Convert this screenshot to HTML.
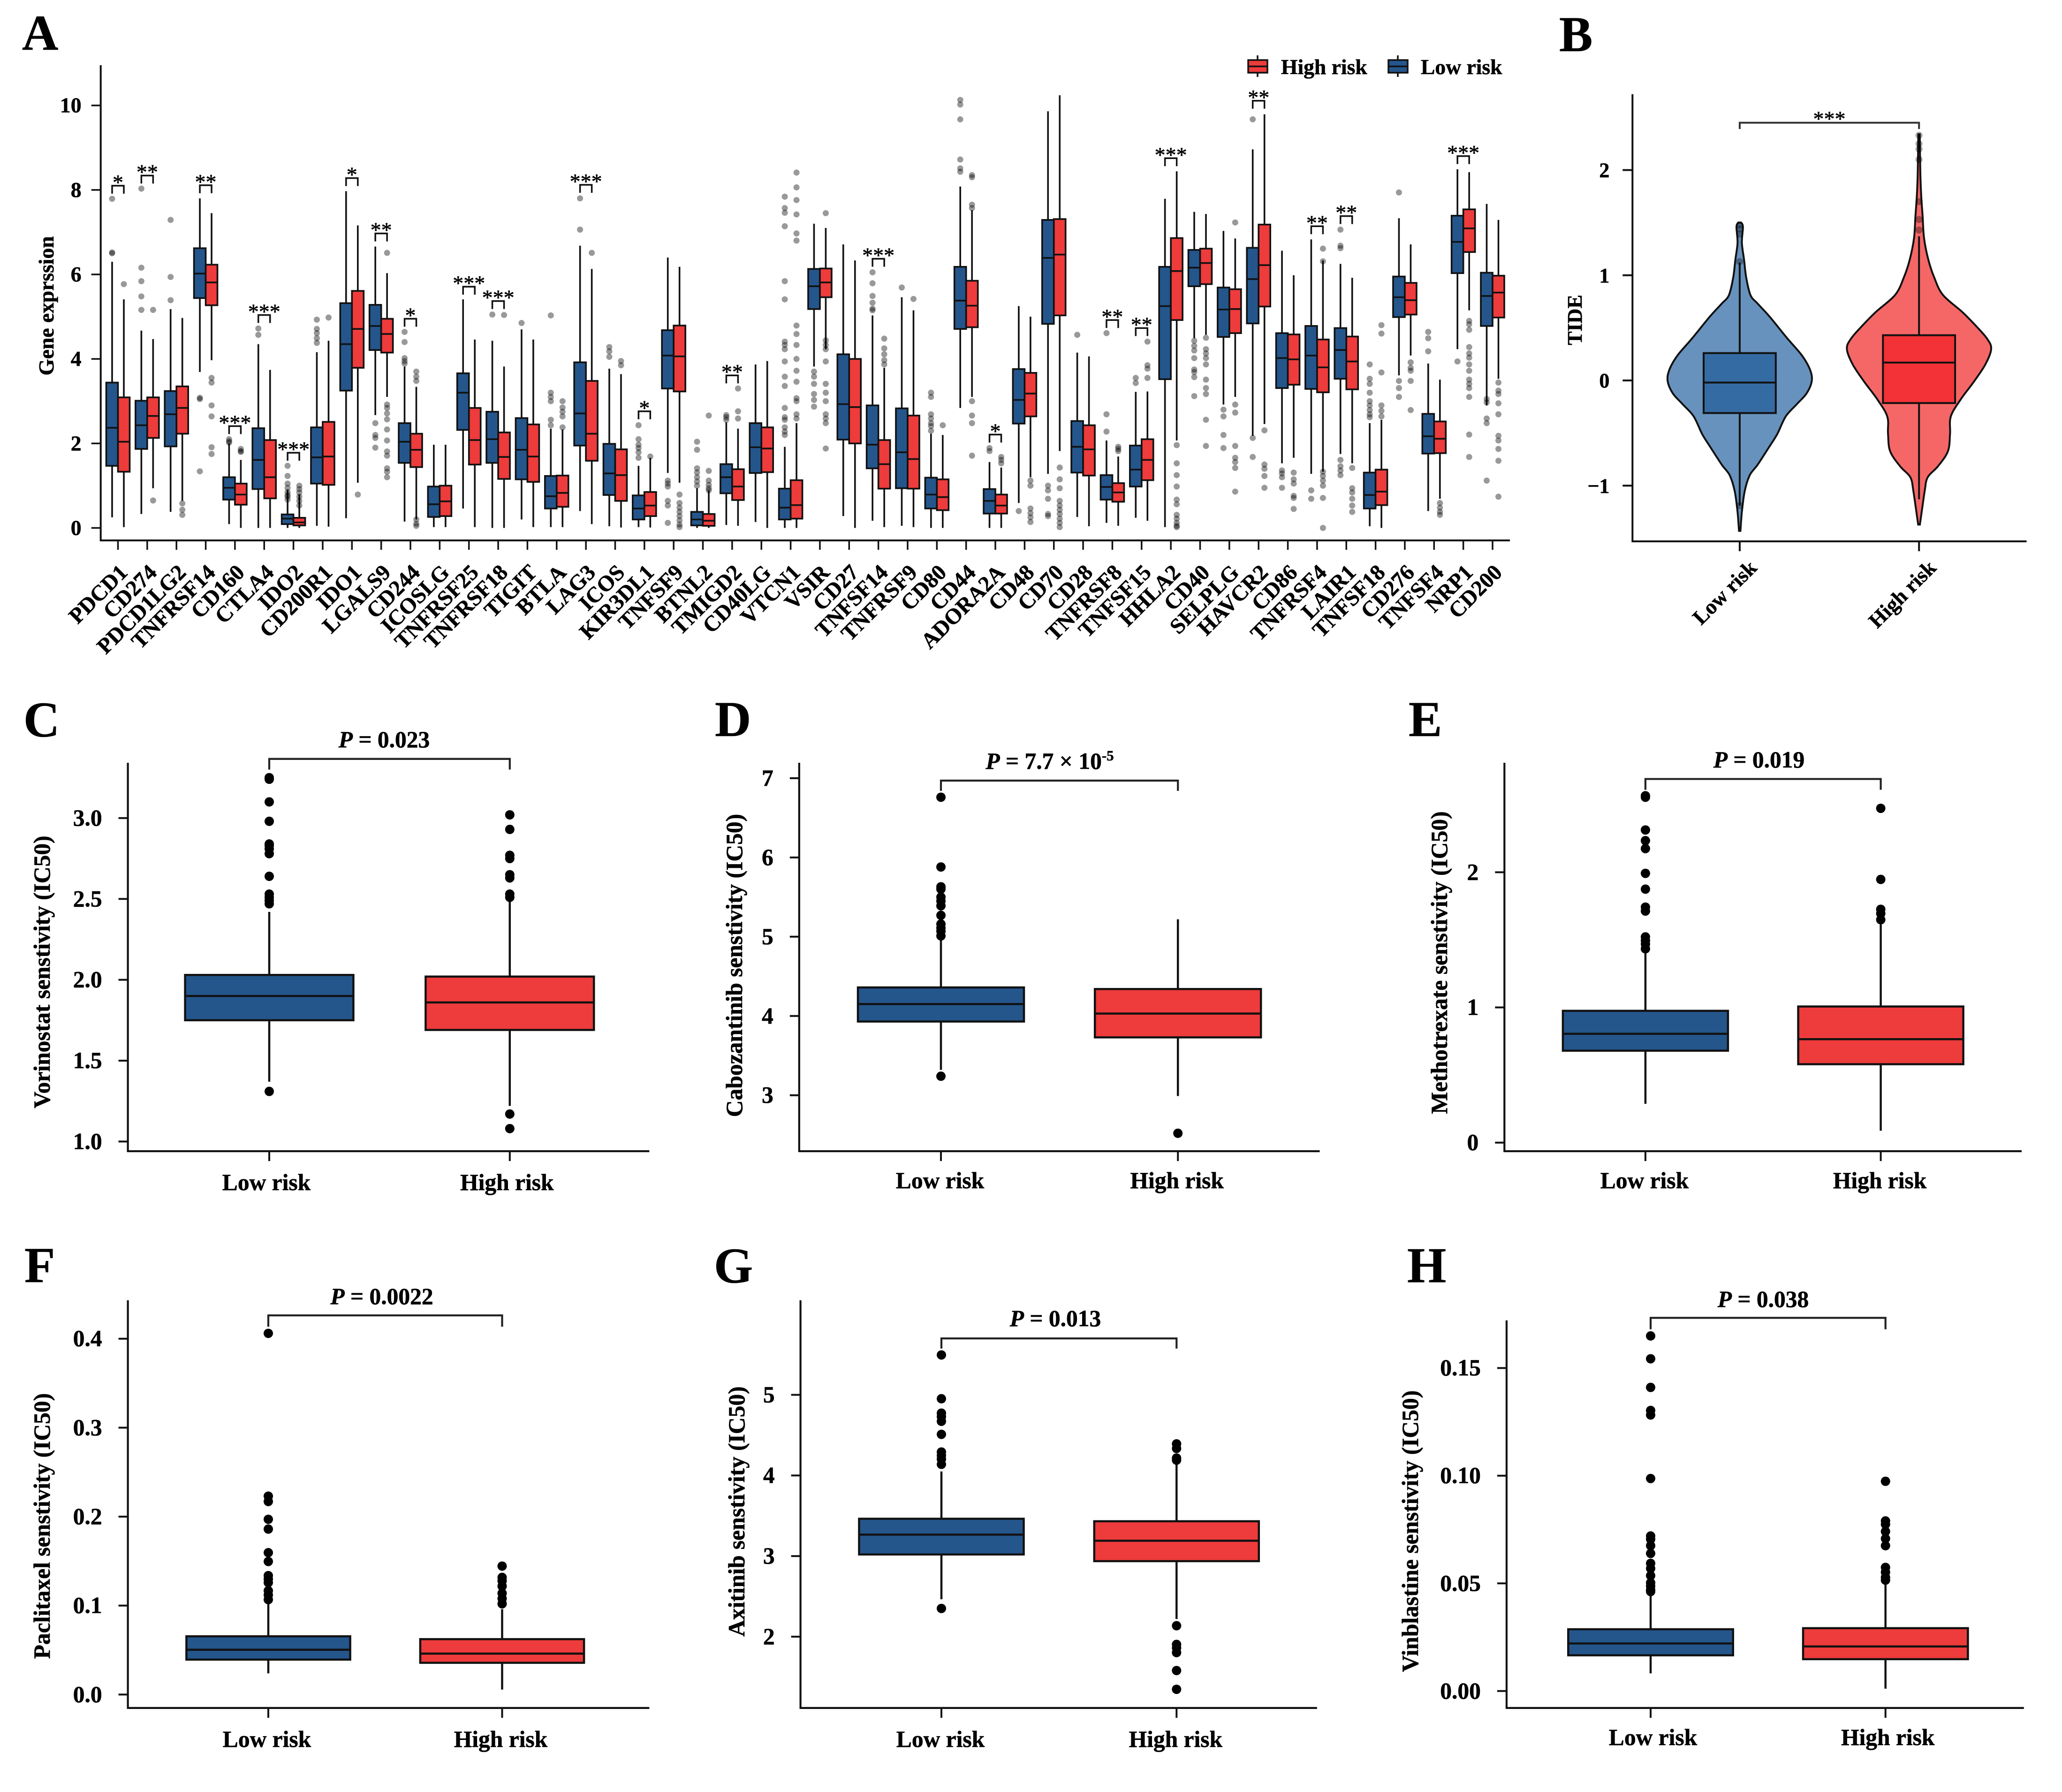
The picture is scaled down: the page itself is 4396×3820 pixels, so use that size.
<!DOCTYPE html>
<html lang="en">
<head>
<meta charset="utf-8">
<title>Immune checkpoint expression, TIDE and drug sensitivity by risk group</title>
<style>
html,body{margin:0;padding:0;background:#fff;}
svg{display:block;}
text{font-family:"Liberation Serif",serif;font-weight:bold;fill:#000;stroke:#000;stroke-width:0.6px;}
.letter{font-size:107px;}
.ytitle{font-size:49.5px;text-anchor:middle;}
.plabel{font-size:49.5px;text-anchor:middle;}
.plabel .p{font-style:italic;}
.legend{font-size:45.6px;}
</style>
</head>
<body>
<svg id="figure" xmlns="http://www.w3.org/2000/svg" width="4396" height="3820" viewBox="0 0 4396 3820">
<rect x="0" y="0" width="4396" height="3820" fill="#fff"/>
<text class="letter" x="47" y="106">A</text>
<text class="letter" x="3324" y="109">B</text>
<text class="letter" x="50" y="1570">C</text>
<text class="letter" x="1524" y="1569">D</text>
<text class="letter" x="3003" y="1569">E</text>
<text class="letter" x="52" y="2733">F</text>
<text class="letter" x="1522" y="2734">G</text>
<text class="letter" x="3000" y="2733">H</text>

<text transform="translate(114,652) rotate(-90)" style="font-size:45.5px;text-anchor:middle">Gene exprssion</text>
<text transform="translate(3372,682) rotate(-90)" style="font-size:44px;text-anchor:middle">TIDE</text>
<text class="ytitle" transform="translate(106,2072) rotate(-90)">Vorinostat senstivity (IC50)</text>
<text class="ytitle" transform="translate(1582,2058) rotate(-90)">Cabozantinib senstivity (IC50)</text>
<text class="ytitle" transform="translate(3085,2052) rotate(-90)">Methotrexate senstivity (IC50)</text>
<text class="ytitle" transform="translate(106,3253) rotate(-90)">Paclitaxel senstivity (IC50)</text>
<text class="ytitle" transform="translate(1587,3222) rotate(-90)">Axitinib senstivity (IC50)</text>
<text class="ytitle" transform="translate(3023,3264) rotate(-90)">Vinblastine senstivity (IC50)</text>

<text class="plabel" x="819" y="1593"><tspan class="p">P</tspan> = 0.023</text>
<text class="plabel" x="2238" y="1639"><tspan class="p">P</tspan> = 7.7 × 10<tspan dy="-18" font-size="31">-5</tspan></text>
<text class="plabel" x="3750" y="1636"><tspan class="p">P</tspan> = 0.019</text>
<text class="plabel" x="814" y="2780"><tspan class="p">P</tspan> = 0.0022</text>
<text class="plabel" x="2250" y="2827"><tspan class="p">P</tspan> = 0.013</text>
<text class="plabel" x="3759" y="2786"><tspan class="p">P</tspan> = 0.038</text>

<g>
  <g>
    <line x1="2681" x2="2681" y1="118" y2="164" stroke="#111" stroke-width="3.5"/>
    <rect x="2661" y="128" width="41" height="27" fill="#ee3b3b" stroke="#111" stroke-width="3.5"/>
    <line x1="2661" x2="2702" y1="141.5" y2="141.5" stroke="#111" stroke-width="3.5"/>
    <text class="legend" x="2731" y="158">High risk</text>
  </g>
  <g>
    <line x1="2980" x2="2980" y1="118" y2="164" stroke="#111" stroke-width="3.5"/>
    <rect x="2960" y="128" width="41" height="27" fill="#24568c" stroke="#111" stroke-width="3.5"/>
    <line x1="2960" x2="3001" y1="141.5" y2="141.5" stroke="#111" stroke-width="3.5"/>
    <text class="legend" x="3029" y="158">Low risk</text>
  </g>
</g>
</svg>

<script>
/* ---------- Panel A data: [lower whisker, Q1, median, Q3, upper whisker] ---------- */
const geneNames = ['PDCD1','CD274','PDCD1LG2','TNFRSF14','CD160','CTLA4','IDO2','CD200R1','IDO1','LGALS9','CD244','ICOSLG','TNFRSF25','TNFRSF18','TIGIT','BTLA','LAG3','ICOS','KIR3DL1','TNFSF9','BTNL2','TMIGD2','CD40LG','VTCN1','VSIR','CD27','TNFSF14','TNFRSF9','CD80','CD44','ADORA2A','CD48','CD70','CD28','TNFRSF8','TNFSF15','HHLA2','CD40','SELPLG','HAVCR2','CD86','TNFRSF4','LAIR1','TNFSF18','CD276','TNFSF4','NRP1','CD200'];
const geneTicks = [0,2,4,6,8,10];
const geneTickLabels = ['0','2','4','6','8','10'];
const geneLowStats = [
[0.25,1.47,2.37,3.44,6.30],[0.33,1.87,2.43,3.01,4.67],[0.38,1.93,2.69,3.24,5.18],[3.69,5.44,6.02,6.62,7.80],
[0.09,0.67,0.95,1.20,2.00],[0,0.92,1.61,2.36,4.35],[0,0.09,0.22,0.32,0.90],[0.05,1.05,1.67,2.38,4.16],
[0.23,3.25,4.35,5.32,7.97],[2.67,4.21,4.78,5.28,6.66],[0.15,1.54,2.04,2.48,3.82],[0.02,0.26,0.56,0.98,1.97],
[0.46,2.32,3.20,3.66,5.41],[0,1.54,2.10,2.75,4.43],[0.20,1.15,1.85,2.60,4.70],[0.02,0.46,0.75,1.23,2.35],
[0.40,1.95,2.71,3.92,6.68],[0.04,0.78,1.29,1.99,3.77],[0.02,0.20,0.46,0.77,1.47],[1.30,3.30,4.08,4.68,6.40],
[0,0.06,0.20,0.38,0.94],[0.07,0.82,1.20,1.51,2.50],[0.14,1.30,1.91,2.48,3.87],[0,0.20,0.48,0.93,1.92],
[3.82,5.18,5.72,6.13,7.20],[0.28,2.09,2.93,4.11,6.71],[0.17,1.41,1.97,2.90,5.03],[0.05,0.94,1.79,2.83,5.46],
[0,0.46,0.79,1.19,2.23],[2.84,4.71,5.38,6.18,8.08],[0,0.34,0.64,0.92,1.56],[0.59,2.47,3.03,3.76,5.25],
[1.28,4.83,6.39,7.29,9.86],[0.26,1.31,1.92,2.53,4.15],[0.12,0.67,0.97,1.25,2.07],[0.24,0.98,1.38,1.95,3.22],
[0.02,3.52,5.25,6.18,7.79],[4.49,5.72,6.16,6.58,7.48],[2.92,4.52,5.17,5.69,7.03],[2.18,4.84,5.89,6.63,8.96],
[1.53,3.31,4.02,4.61,6.56],[1.28,3.29,4.08,4.78,6.83],[1.75,3.53,4.21,4.73,6.25],[0.04,0.46,0.78,1.31,2.48],
[3.61,4.99,5.46,5.95,7.33],[0.40,1.76,2.17,2.70,3.89],[4.23,6.03,6.77,7.39,8.49],[2.90,4.78,5.49,6.04,7.67]
];
const geneHighStats = [
[0.02,1.33,2.04,3.09,5.41],[0.94,2.13,2.65,3.09,4.47],[0.64,2.23,2.84,3.35,4.97],[3.97,5.27,5.81,6.23,7.45],
[0,0.55,0.79,1.05,1.61],[0,0.70,1.20,2.08,3.74],[0,0.06,0.13,0.24,0.79],[0.03,1.02,1.69,2.51,4.43],
[1.07,3.79,4.71,5.61,7.16],[3.10,4.15,4.59,4.95,6.03],[0.20,1.44,1.85,2.23,3.34],[0.02,0.28,0.63,1.00,1.97],
[0.02,1.50,2.08,2.84,4.46],[0,1.16,1.68,2.26,3.82],[0.02,1.09,1.69,2.45,4.46],[0.02,0.50,0.83,1.24,2.33],
[0.09,1.59,2.23,3.48,6.13],[0.01,0.64,1.25,1.86,3.64],[0.01,0.28,0.53,0.85,1.66],[1.07,3.23,4.06,4.79,6.18],
[0,0.05,0.17,0.33,0.89],[0.05,0.66,0.98,1.39,2.35],[0,1.32,1.88,2.38,3.95],[0,0.22,0.54,1.13,2.48],
[4.23,5.46,5.81,6.14,7.10],[0,2.00,2.86,4.00,6.33],[0.02,0.93,1.51,2.08,3.79],[0.02,0.93,1.63,2.66,5.15],
[0,0.42,0.73,1.15,2.20],[3.10,4.75,5.26,5.85,7.52],[0,0.34,0.53,0.79,1.43],[1.20,2.64,3.18,3.67,5.00],
[1.82,5.03,6.47,7.31,10.24],[0.04,1.24,1.86,2.43,4.06],[0.05,0.62,0.84,1.06,1.69],[0.17,1.13,1.61,2.10,3.23],
[2.07,4.92,6.08,6.86,8.44],[4.57,5.77,6.27,6.61,7.43],[3.10,4.61,5.18,5.65,6.85],[2.46,5.24,6.22,7.18,9.79],
[1.66,3.39,3.99,4.58,5.98],[1.33,3.21,3.80,4.46,6.33],[1.53,3.28,3.94,4.53,5.92],[0,0.54,0.86,1.38,2.56],
[4.08,5.05,5.39,5.80,6.71],[0.69,1.77,2.11,2.52,3.51],[5.15,6.53,7.09,7.54,8.42],[3.53,4.98,5.57,5.97,7.29]
];
const geneLowOutliers = [
[7.79,6.52,6.50],[8.03,6.16,5.84,5.48,5.16],[7.29,5.94,5.39],[3.08,3.05,1.34],[2.10,2.05,2.02],[4.72,4.57],
[1.47,1.23,1.05,0.95,0.85,0.78,0.74,0.67],[4.93,4.71,4.61,4.49,4.38],[],[2.48,2.20,2.13,1.90],[4.64,4.40,4.02,3.95,3.89],[],
[],[5.05],[4.85],[5.03,3.20,3.10,3.00,2.56,2.43],[7.80,7.06],[4.28,4.18,4.05],[2.43,2.10,1.97,1.89,1.79,1.66],
[1.12,1.05,0.98,0.64,0.53,0.12],[2.04,1.85,1.41,1.31,1.20,1.10,1.00],[2.67,2.62,2.56],[],
[7.84,7.57,7.46,7.14,5.84,5.41,4.41,4.33,4.23,3.94,3.58,3.36,2.84,2.62,2.56,2.38,2.28,2.20],
[3.70,3.58,3.41,3.17,3.03,2.87],[],[6.05,5.79,5.49,5.33,5.19,5.15],[5.69],[3.20,3.10,2.69,2.59,2.48,2.41,2.30],
[10.13,10.02,9.67,8.72,8.51,8.43],[1.89,1.82],[0.40],[1.00,0.89,0.69,0.33,0.28],[4.57],[4.61,2.69,2.28],[3.55,3.43],[],
[4.43,4.31,4.20,4.02,3.75,3.69,3.57,3.12],[2.80,2.64,2.20,1.89],[9.67,2.13,1.68],[1.36,1.29,1.20,0.95],[0.89,0.69],
[7.06,6.68,6.62,1.61,1.46,1.36,1.25],[3.87,3.53,3.41,3.20,3.00,2.90,2.79,2.69,2.62],[7.94,3.48,3.31,3.10],[4.64,4.49,4.18],[3.94],[3.05,2.97,2.59,2.48,1.12]
];
const geneHighOutliers = [
[5.77],[5.16,0.65],[0.58,0.43,0.31],[3.55,3.44,2.90,2.64,1.91,1.75],[1.87,1.82,1.80],[],
[1.00,0.92,0.84,0.74,0.64,0.53],[4.98],[0.79],[6.51,2.92,2.84,2.71,2.57,2.33,2.07,1.81,1.71,1.41,1.33,1.20],[3.70,3.58,3.48,0.20,0.10,0.05],[],
[],[5.04],[],[3.00,2.85,2.75,2.64,2.38],[6.51],[3.95,3.85],[1.69],
[0.79,0.59,0.48,0.38,0.28,0.18,0.08,0.02],[2.66,1.35,1.12,1.02,0.94,0.89],[3.30,2.76,2.59],[],
[8.41,8.06,7.76,7.42,6.97,6.80,4.79,4.59,4.33,4.00,3.72,3.46,3.07,3.00,2.69,2.59],
[7.45,4.44,4.33,4.23,3.94,3.41,3.20,3.00,2.69,2.59,2.48,1.88],[],[4.48,4.25,4.11,3.97,3.87],[5.42],[2.43],
[8.35,8.30,7.65,7.57,3.00,2.66,2.48,1.71],[1.68,1.61,1.53],[1.12,1.00,0.46,0.35,0.25,0.14],[1.43,1.15,0.94,0.64,0.53,0.43,0.33,0.22,0.12,0.02],[],[1.92,1.87,1.82],[4.41,3.85,3.77,3.55],
[1.96,1.53,1.25,0.98,0.67,0.56,0.31,0.22,0.12,0.05,0.02],
[4.50,4.23,4.13,4.02,3.87,3.51,3.31,3.17,2.56,1.94],[7.23,2.92,2.73,1.94,1.66,1.56,1.42,0.86],[2.31,1.50,1.40,1.23,0.95],[1.31,1.15,1.05,0.76,0.71,0.45],[6.61,6.31,1.33,1.23,1.12,1.00,0.71,0],
[1.42,0.94,0.84,0.69,0.53,0.38],[4.80,4.60,3.68,2.90,2.77,2.64],[3.92,3.79,3.72,3.48,2.79],[0.59,0.48,0.38,0.31],[4.90,4.82,4.69,4.28,4.13,4.03,3.87,3.72,3.51,3.41,3.31,3.10,2.21,1.68],[3.44,3.25,3.17,2.95,2.69,2.18,2.07,1.87,1.59,0.74]
];
const geneSigLabels = ['*','**','','**','***','***','***','','*','**','*','','***','***','','','***','','*','','','**','','','','','***','','','','*','','','','**','**','***','','','**','','**','**','','','','***',''];
const geneSigHeights = [8.10,8.34,0,8.11,2.41,5.04,1.78,0,8.28,6.97,4.95,0,5.71,5.37,0,0,8.12,0,2.76,0,0,3.61,0,0,0,0,6.37,0,0,0,2.21,0,0,0,4.92,4.73,8.75,0,0,10.11,0,7.14,7.38,0,0,0,8.80,0];

/* ---------- Panel B data ---------- */
const tideCategories = ['Low risk','High risk'];
const tideTicks = [-1,0,1,2];
const tideTickLabels = ['\u22121','0','1','2'];
const tideLowValues = [1.50,1.46,1.31,1.15,0.98,0.81,0.73,0.61,0.40,0.24,0.11,0,-0.12,-0.22,-0.34,-0.51,-0.63,-0.80,-0.90,-1.05,-1.25,-1.43];
const tideLowDensity = [0.02,0.045,0.03,0.06,0.09,0.15,0.25,0.41,0.66,0.86,0.97,1,0.93,0.80,0.64,0.52,0.41,0.25,0.14,0.07,0.03,0.01];
const tideHighValues = [2.34,1.97,1.76,1.56,1.35,1.145,0.98,0.814,0.65,0.525,0.40,0.30,0.153,-0.012,-0.178,-0.343,-0.508,-0.674,-0.818,-0.92,-1.045,-1.21,-1.37];
const tideHighDensity = [0.01,0.018,0.03,0.05,0.07,0.13,0.21,0.33,0.60,0.78,0.94,1,0.92,0.76,0.58,0.44,0.43,0.40,0.26,0.12,0.08,0.045,0.012];
const tideLowStats = [-1.19,-0.31,-0.02,0.26,1.12];
const tideHighStats = [-1.13,-0.215,0.17,0.43,1.37];
const tideLowOutliers = [1.48,1.44,1.39,1.13,-1.19];
const tideHighOutliers = [2.33,2.25,2.20,2.10,1.70,1.53,1.43];
const tideBracket = [2.45,2.39];
const tideSigLabel = '***';

/* ---------- Panels C-H data ---------- */
const drugCategories = ['Low risk','High risk'];

const vorinostatTicks = [1,1.5,2,2.5,3];
const vorinostatTickLabels = ['1.0','1.5','2.0','2.5','3.0'];
const vorinostatLow = [1.37,1.75,1.90,2.03,2.42];
const vorinostatHigh = [1.22,1.69,1.86,2.02,2.49];
const vorinostatLowOutliers = [3.25,3.24,3.10,2.98,2.84,2.83,2.81,2.78,2.64,2.53,2.51,2.49,2.47,1.31];
const vorinostatHighOutliers = [3.02,2.93,2.77,2.75,2.65,2.63,2.53,2.51,1.17,1.08];
const vorinostatBracket = [3.366,3.30];

const cabozantinibTicks = [3,4,5,6,7];
const cabozantinibTickLabels = ['3','4','5','6','7'];
const cabozantinibLow = [3.32,3.93,4.15,4.36,4.98];
const cabozantinibHigh = [2.99,3.73,4.03,4.34,5.22];
const cabozantinibLowOutliers = [6.76,5.88,5.63,5.60,5.50,5.45,5.39,5.27,5.16,5.11,5.07,5.01,3.24];
const cabozantinibHighOutliers = [2.52];
const cabozantinibBracket = [6.97,6.84];

const methotrexateTicks = [0,1,2];
const methotrexateTickLabels = ['0','1','2'];
const methotrexateLow = [0.287,0.68,0.805,0.975,1.40];
const methotrexateHigh = [0.088,0.58,0.765,1.007,1.615];
const methotrexateLowOutliers = [2.566,2.555,2.313,2.234,2.175,1.992,1.875,1.742,1.713,1.522,1.495,1.469,1.434];
const methotrexateHighOutliers = [2.473,1.947,1.726,1.695,1.649];
const methotrexateBracket = [2.69,2.61];

const paclitaxelTicks = [0,0.1,0.2,0.3,0.4];
const paclitaxelTickLabels = ['0.0','0.1','0.2','0.3','0.4'];
const paclitaxelLow = [0.0238,0.0393,0.0504,0.0655,0.102];
const paclitaxelHigh = [0.0056,0.0357,0.046,0.0623,0.096];
const paclitaxelLowOutliers = [0.406,0.223,0.217,0.197,0.186,0.1595,0.1496,0.1337,0.1298,0.1258,0.1167,0.1119,0.1067];
const paclitaxelHighOutliers = [0.1444,0.1317,0.1278,0.1218,0.1139,0.1079,0.1020];
const paclitaxelBracket = [0.4262,0.4135];

const axitinibTicks = [2,3,4,5];
const axitinibTickLabels = ['2','3','4','5'];
const axitinibLow = [2.464,3.02,3.266,3.463,4.05];
const axitinibHigh = [2.219,2.937,3.19,3.432,4.137];
const axitinibLowOutliers = [5.495,4.952,4.773,4.729,4.672,4.51,4.291,4.247,4.203,4.138,2.35];
const axitinibHighOutliers = [4.392,4.335,4.216,4.19,2.136,1.904,1.86,1.803,1.58,1.347];
const axitinibBracket = [5.70,5.574];

const vinblastineTicks = [0,0.05,0.10,0.15];
const vinblastineTickLabels = ['0.00','0.05','0.10','0.15'];
const vinblastineLow = [0.0082,0.0166,0.0221,0.0287,0.0454];
const vinblastineHigh = [0.0011,0.0148,0.0207,0.0292,0.0495];
const vinblastineLowOutliers = [0.1649,0.1543,0.141,0.1303,0.1282,0.0987,0.072,0.0705,0.0675,0.0639,0.0593,0.0569,0.0536,0.0503,0.0487,0.047,0.0462];
const vinblastineHighOutliers = [0.0974,0.079,0.0774,0.0741,0.0708,0.0675,0.0574,0.0552,0.0528,0.0515];
const vinblastineBracket = [0.1733,0.168];

/* ---------- Drawing ---------- */
const NS = 'http://www.w3.org/2000/svg';
const figure = document.getElementById('figure');
const LOW_COLOR = '#24568c';
const HIGH_COLOR = '#ee3b3b';
const INK = '#111';

function mk(tag, attrs, parent, text) {
  const el = document.createElementNS(NS, tag);
  for (const k in attrs) el.setAttribute(k, attrs[k]);
  if (text !== undefined) el.textContent = text;
  parent.appendChild(el);
  return el;
}
function group(parent) {
  return mk('g', {}, parent);
}
function vline(parent, x, y1, y2, w, color) {
  return mk('line', {x1:x, x2:x, y1:y1, y2:y2, stroke:color || INK, 'stroke-width':w}, parent);
}
function hline(parent, x1, x2, y, w, color) {
  return mk('line', {x1:x1, x2:x2, y1:y, y2:y, stroke:color || INK, 'stroke-width':w}, parent);
}
function linearScale(v1, p1, v2, p2) {
  return function (v) { return p1 + (v - v1) * (p2 - p1) / (v2 - v1); };
}
function smoothPath(pts) {
  let d = '';
  for (let i = 0; i < pts.length - 1; i++) {
    const p0 = pts[Math.max(i - 1, 0)], p1 = pts[i], p2 = pts[i + 1], p3 = pts[Math.min(i + 2, pts.length - 1)];
    const c1 = [p1[0] + (p2[0] - p0[0]) / 6, p1[1] + (p2[1] - p0[1]) / 6];
    const c2 = [p2[0] - (p3[0] - p1[0]) / 6, p2[1] - (p3[1] - p1[1]) / 6];
    d += 'C' + c1[0].toFixed(1) + ' ' + c1[1].toFixed(1) + ' ' + c2[0].toFixed(1) + ' ' + c2[1].toFixed(1) + ' ' + p2[0].toFixed(1) + ' ' + p2[1].toFixed(1);
  }
  return d;
}

/* box + whiskers from a five-number summary */
function drawBox(parent, cx, half, stats, y, fill, sw) {
  const whisker = vline(parent, cx, y(stats[4]), y(stats[0]), sw);
  
  
  const box = mk('rect', {x:cx - half, y:y(stats[3]), width:half * 2, height:y(stats[1]) - y(stats[3]), fill:fill, stroke:INK, 'stroke-width':sw}, parent);
  
  
  const med = hline(parent, cx - half, cx + half, y(stats[2]), sw);
  
  
}
function drawOutliers(parent, cx, values, y, r, fill, opacity) {
  values.forEach(function (v) {
    const c = mk('circle', {cx:cx, cy:y(v), r:r, fill:fill, 'fill-opacity':opacity}, parent);
    
    
  });
}

/* ---------- Panel A ---------- */
(function () {
  const g = group(figure);
  
  
  const axisX = 214.7, axisTop = 139, axisBottom = 1152, axisRight = 3219;
  const y = linearScale(0, 1125.4, 10, 224.7);
  const x = linearScale(0, 251.5, geneNames.length - 1, 3182);
  const dodge = 12.5, half = 12.5;

  geneNames.forEach(function (name, i) {
    const cg = group(g);
    
    
    const cx = x(i);
    drawBox(cg, cx - dodge, half, geneLowStats[i], y, LOW_COLOR, 3.6);
    drawBox(cg, cx + dodge, half, geneHighStats[i], y, HIGH_COLOR, 3.6);
    drawOutliers(cg, cx - dodge, geneLowOutliers[i], y, 6.5, '#000', 0.4);
    drawOutliers(cg, cx + dodge, geneHighOutliers[i], y, 6.5, '#000', 0.4);

    const tick = vline(g, cx, axisBottom, axisBottom + 20, 3.5);
    
    
    const label = mk('text', {transform:'translate(' + (cx + 23) + ',1223) rotate(-45)', 'text-anchor':'end', 'font-size':'47'}, g, name);
    
    

    if (geneSigLabels[i]) {
      const by = y(geneSigHeights[i]);
      const br = mk('path', {d:'M' + (cx - dodge) + ' ' + (by + 17) + 'V' + by + 'H' + (cx + dodge) + 'V' + (by + 17), fill:'none', stroke:INK, 'stroke-width':3.5}, cg);
      
      
      const st = mk('text', {x:cx, y:by + 8, 'text-anchor':'middle', 'font-size':'46', style:'font-weight:normal'}, cg, geneSigLabels[i]);
      
      
    }
  });

  const yAxis = vline(g, axisX, axisTop, axisBottom + 2, 4);
  
  
  const xAxis = hline(g, axisX, axisRight, axisBottom, 4);
  
  
  geneTicks.forEach(function (t, i) {
    const tk = hline(g, axisX - 20, axisX, y(t), 3.5);
    
    
    const lb = mk('text', {x:173.5, y:y(t) + 15, 'text-anchor':'end', 'font-size':'45.6'}, g, geneTickLabels[i]);
    
    
  });
})();

/* ---------- Panel B ---------- */
(function () {
  const g = group(figure);
  
  
  const axisX = 3480.3, axisTop = 200.7, axisBottom = 1154, axisRight = 4320.5;
  const y = linearScale(0, 811, 2, 362.5);
  const x = linearScale(0, 3708.9, 1, 4091.2);
  const maxWidth = 153.8, half = 76.9;

  function violin(cx, values, density, fill) {
    const right = values.map(function (v, i) { return [cx + density[i] * maxWidth, y(v)]; });
    const left = values.map(function (v, i) { return [cx - density[i] * maxWidth, y(v)]; }).reverse();
    const d = 'M' + right[0][0] + ' ' + right[0][1] + smoothPath(right) + 'L' + left[0][0] + ' ' + left[0][1] + smoothPath(left) + 'Z';
    return mk('path', {d:d, fill:fill, stroke:INK, 'stroke-width':4}, g);
  }
  const vLow = violin(x(0), tideLowValues, tideLowDensity, '#6792bd');
  
  
  const vHigh = violin(x(1), tideHighValues, tideHighDensity, '#f56767');
  
  

  drawBox(g, x(0), half, tideLowStats, y, '#356ba3', 4);
  drawBox(g, x(1), half, tideHighStats, y, '#f23236', 4);
  drawOutliers(g, x(0), tideLowOutliers, y, 7.5, '#000', 0.35);
  drawOutliers(g, x(1), tideHighOutliers, y, 7.5, '#000', 0.35);

  const br = mk('path', {d:'M' + x(0) + ' ' + y(tideBracket[1]) + 'V' + y(tideBracket[0]) + 'H' + x(1) + 'V' + y(tideBracket[1]), fill:'none', stroke:'#333', 'stroke-width':4}, g);
  
  
  const st = mk('text', {x:(x(0) + x(1)) / 2, y:y(tideBracket[0]) + 7, 'text-anchor':'middle', 'font-size':'46', style:'font-weight:normal'}, g, tideSigLabel);
  
  

  const yAxis = vline(g, axisX, axisTop, axisBottom + 2, 4);
  
  
  const xAxis = hline(g, axisX, axisRight, axisBottom, 4);
  
  
  tideTicks.forEach(function (t, i) {
    const tk = hline(g, axisX - 21, axisX, y(t), 4);
    
    
    const lb = mk('text', {x:3431.4, y:y(t) + 15, 'text-anchor':'end', 'font-size':'44'}, g, tideTickLabels[i]);
    
    
  });
  tideCategories.forEach(function (c, i) {
    const tk = vline(g, x(i), axisBottom, axisBottom + 21, 4);
    
    
    const lb = mk('text', {transform:'translate(' + (x(i) + 39) + ',1213) rotate(-45)', 'text-anchor':'end', 'font-size':'45'}, g, c);
    
    
  });
})();

/* ---------- Panels C-H ---------- */
function drawDrugPanel(panelName, geom, ticks, tickLabels, low, high, lowOut, highOut, bracket) {
  const g = group(figure);
  
  
  const y = linearScale(geom.vA, geom.pA, geom.vB, geom.pB);
  const x = linearScale(0, geom.xLow, 1, geom.xHigh);

  drawBox(g, x(0), geom.half, low, y, LOW_COLOR, 4.5);
  drawBox(g, x(1), geom.half, high, y, HIGH_COLOR, 4.5);
  drawOutliers(g, x(0), lowOut, y, 10, '#000', 1);
  drawOutliers(g, x(1), highOut, y, 10, '#000', 1);

  const br = mk('path', {d:'M' + x(0) + ' ' + y(bracket[1]) + 'V' + y(bracket[0]) + 'H' + x(1) + 'V' + y(bracket[1]), fill:'none', stroke:'#222', 'stroke-width':4.2}, g);
  
  

  const yAxis = vline(g, geom.axisX, geom.top, geom.bottom + 2, 4.2);
  
  
  const xAxis = hline(g, geom.axisX, geom.right, geom.bottom, 4.2);
  
  

  ticks.forEach(function (t, i) {
    const tk = hline(g, geom.axisX - 20, geom.axisX, y(t), 4);
    
    
    const lb = mk('text', {x:geom.axisX - 55, y:y(t) + 16, 'text-anchor':'end', 'font-size':'49.5'}, g, tickLabels[i]);
    
    
  });
  drugCategories.forEach(function (c, i) {
    const tk = vline(g, x(i), geom.bottom, geom.bottom + 21, 4);
    
    
    const lb = mk('text', {x:x(i) + geom.labelShift, y:geom.labelY, 'text-anchor':'middle', 'font-size':'49.5'}, g, c);
    
    
  });
}

drawDrugPanel('panel-c-vorinostat',
  {axisX:272.6, top:1626, bottom:2454, right:1384.3, vA:1, pA:2433.4, vB:3, pB:1743.9, xLow:574, xHigh:1086.8, half:179.4, labelY:2537, labelShift:-6},
  vorinostatTicks, vorinostatTickLabels, vorinostatLow, vorinostatHigh, vorinostatLowOutliers, vorinostatHighOutliers, vorinostatBracket);
drawDrugPanel('panel-d-cabozantinib',
  {axisX:1703.8, top:1626, bottom:2454, right:2813.5, vA:3, pA:2334.7, vB:7, pB:1658.9, xLow:2006, xHigh:2511.2, half:177, labelY:2533, labelShift:-2},
  cabozantinibTicks, cabozantinibTickLabels, cabozantinibLow, cabozantinibHigh, cabozantinibLowOutliers, cabozantinibHighOutliers, cabozantinibBracket);
drawDrugPanel('panel-e-methotrexate',
  {axisX:3207.3, top:1626, bottom:2454, right:4310, vA:0, pA:2435.7, vB:2, pB:1859.4, xLow:3507.9, xHigh:4009.6, half:176, labelY:2533, labelShift:-2},
  methotrexateTicks, methotrexateTickLabels, methotrexateLow, methotrexateHigh, methotrexateLowOutliers, methotrexateHighOutliers, methotrexateBracket);
drawDrugPanel('panel-f-paclitaxel',
  {axisX:272.6, top:2771.7, bottom:3640.9, right:1384.3, vA:0, pA:3612.3, vB:0.4, pB:2853.7, xLow:572, xHigh:1070.5, half:174.6, labelY:3724, labelShift:-3},
  paclitaxelTicks, paclitaxelTickLabels, paclitaxelLow, paclitaxelHigh, paclitaxelLowOutliers, paclitaxelHighOutliers, paclitaxelBracket);
drawDrugPanel('panel-g-axitinib',
  {axisX:1706.6, top:2771.7, bottom:3640.9, right:2807.8, vA:2, pA:3488.9, vB:5, pB:2973.4, xLow:2007, xHigh:2508.3, half:175.5, labelY:3724, labelShift:-2},
  axitinibTicks, axitinibTickLabels, axitinibLow, axitinibHigh, axitinibLowOutliers, axitinibHighOutliers, axitinibBracket);
drawDrugPanel('panel-h-vinblastine',
  {axisX:3211.9, top:2814.6, bottom:3640.9, right:4314.8, vA:0, pA:3604.8, vB:0.15, pB:2916.2, xLow:3519, xHigh:4019.7, half:175.7, labelY:3720, labelShift:5},
  vinblastineTicks, vinblastineTickLabels, vinblastineLow, vinblastineHigh, vinblastineLowOutliers, vinblastineHighOutliers, vinblastineBracket);
</script>
</body>
</html>
